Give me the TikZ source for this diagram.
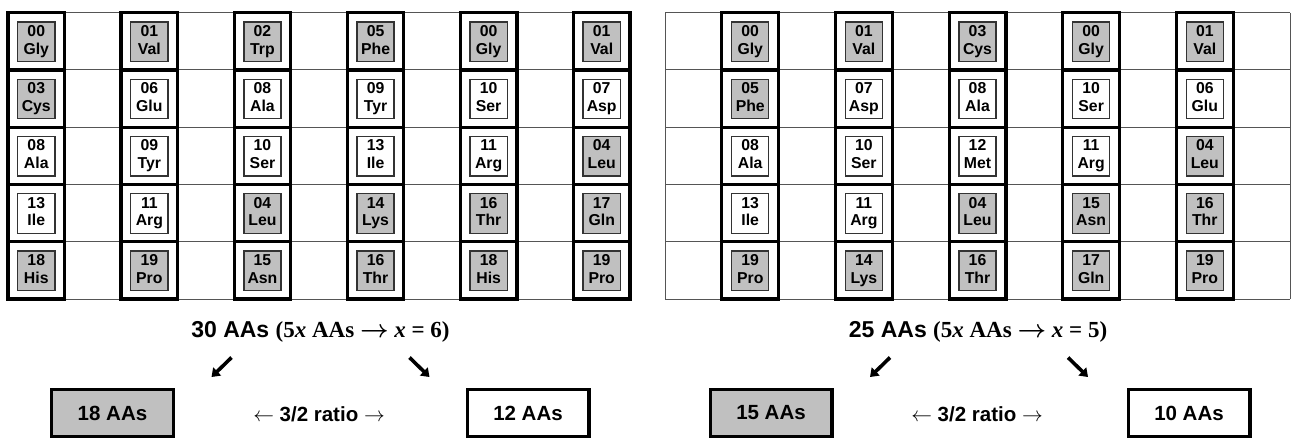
\documentclass[tikz,border=0pt]{standalone}
\usepackage{fontspec}
\setmainfont{Liberation Sans}
\newfontfamily\serifbf{Liberation Serif}
\usetikzlibrary{arrows.meta}
\definecolor{cellgray}{HTML}{C0C0C0}
\definecolor{gridgray}{HTML}{555555}
\definecolor{boxedge}{HTML}{333333}
% #1 prefix, #2 row, #3 grid x0, #4 col width, #5 column offset, #6 list
\newcommand\aarowdraw[6]{%
  \foreach \s/\n/\a [count=\c from 0] in {#6}
    \node[\s] (#1-#2-\c) at (#3+2*\c*#4+#5*#4, 12.7+#2*57.26+0.5*57.26+0.4) {\n\strut\\\a\strut};%
}
\begin{document}
\begin{tikzpicture}[x=1pt,y=-1pt,
  thingrid/.style={draw=gridgray, line width=1pt},
  boldcell/.style={draw=black, line width=3.2pt},
  aa/.style={draw=boxedge, line width=1.3pt, minimum width=37.2pt, minimum height=39.5pt,
    inner sep=0pt, align=center, font=\fontsize{15.8}{17.6}\selectfont\bfseries},
  g/.style={aa, fill=cellgray},
  w/.style={aa, fill=white},
  heading/.style={anchor=base, inner sep=0pt, font=\fontsize{23}{26}\selectfont\bfseries\boldmath},
  ratio/.style={inner sep=0pt, font=\fontsize{20.5}{24}\selectfont\bfseries},
  sumbox/.style={draw=black, line width=3.3pt, minimum width=121.7pt, minimum height=46.7pt,
    inner sep=0pt, font=\fontsize{20.5}{24}\selectfont\bfseries},
  bigarrow/.style={line width=3.6pt, -{Triangle[length=8pt,width=11pt]}}
]
\useasboundingbox (0,0) rectangle (1292,440);

% ---------- left grid ----------
\def\lx{8}\def\lw{56.545}\def\gy{12.7}\def\gh{57.26}
\foreach \i in {0,...,11} \draw[thingrid] (\lx+\i*\lw,\gy) -- (\lx+\i*\lw,\gy+5*\gh);
\foreach \j in {0,...,5} \draw[thingrid] (\lx,\gy+\j*\gh) -- (\lx+11*\lw,\gy+\j*\gh);
\foreach \c in {0,2,...,10} \foreach \r in {0,...,4}
  \draw[boldcell] (\lx+\c*\lw,\gy+\r*\gh) rectangle ++(\lw,\gh);

\aarowdraw{L}{0}{8}{56.545}{0.5}{g/00/Gly,g/01/Val,g/02/Trp,g/05/Phe,g/00/Gly,g/01/Val}
\aarowdraw{L}{1}{8}{56.545}{0.5}{g/03/Cys,w/06/Glu,w/08/Ala,w/09/Tyr,w/10/Ser,w/07/Asp}
\aarowdraw{L}{2}{8}{56.545}{0.5}{w/08/Ala,w/09/Tyr,w/10/Ser,w/13/Ile,w/11/Arg,g/04/Leu}
\aarowdraw{L}{3}{8}{56.545}{0.5}{w/13/Ile,w/11/Arg,g/04/Leu,g/14/Lys,g/16/Thr,g/17/Gln}
\aarowdraw{L}{4}{8}{56.545}{0.5}{g/18/His,g/19/Pro,g/15/Asn,g/16/Thr,g/18/His,g/19/Pro}

% ---------- right grid ----------
\def\rx{665}\def\rw{56.82}
\foreach \i in {0,...,11} \draw[thingrid] (\rx+\i*\rw,\gy) -- (\rx+\i*\rw,\gy+5*\gh);
\foreach \j in {0,...,5} \draw[thingrid] (\rx,\gy+\j*\gh) -- (\rx+11*\rw,\gy+\j*\gh);
\foreach \c in {1,3,...,9} \foreach \r in {0,...,4}
  \draw[boldcell] (\rx+\c*\rw,\gy+\r*\gh) rectangle ++(\rw,\gh);

\aarowdraw{R}{0}{665}{56.82}{1.5}{g/00/Gly,g/01/Val,g/03/Cys,g/00/Gly,g/01/Val}
\aarowdraw{R}{1}{665}{56.82}{1.5}{g/05/Phe,w/07/Asp,w/08/Ala,w/10/Ser,w/06/Glu}
\aarowdraw{R}{2}{665}{56.82}{1.5}{w/08/Ala,w/10/Ser,w/12/Met,w/11/Arg,g/04/Leu}
\aarowdraw{R}{3}{665}{56.82}{1.5}{w/13/Ile,w/11/Arg,g/04/Leu,g/15/Asn,g/16/Thr}
\aarowdraw{R}{4}{665}{56.82}{1.5}{g/19/Pro,g/14/Lys,g/16/Thr,g/17/Gln,g/19/Pro}

% ---------- left summary ----------
\node[heading] (LH) at (320.5,337) {30 AAs {\serifbf(5\textit{x} AAs $\rightarrow$ \textit{x} = 6)}};
\coordinate (LA1s) at (231.5,357.5); \coordinate (LA1e) at (211.5,377);
\coordinate (LA2s) at (409.5,357.5); \coordinate (LA2e) at (429.5,377);
\draw[bigarrow] (LA1s) -- (LA1e);
\draw[bigarrow] (LA2s) -- (LA2e);
\node[sumbox, fill=cellgray] (LB1) at (112.5,413) {18 AAs};
\node[sumbox, fill=white] (LB2) at (528,413) {12 AAs};
\node[ratio] (LR) at (319,414) {$\leftarrow$ 3/2 ratio $\rightarrow$};

% ---------- right summary ----------
\node[heading] (RH) at (978,337) {25 AAs {\serifbf(5\textit{x} AAs $\rightarrow$ \textit{x} = 5)}};
\coordinate (RA1s) at (890,357.5); \coordinate (RA1e) at (870,377);
\coordinate (RA2s) at (1068,357.5); \coordinate (RA2e) at (1088,377);
\draw[bigarrow] (RA1s) -- (RA1e);
\draw[bigarrow] (RA2s) -- (RA2e);
\node[sumbox, fill=cellgray] (RB1) at (771,413) {15 AAs};
\node[sumbox, fill=white] (RB2) at (1189,413) {10 AAs};
\node[ratio] (RR) at (977,414) {$\leftarrow$ 3/2 ratio $\rightarrow$};
\end{tikzpicture}
\end{document}
